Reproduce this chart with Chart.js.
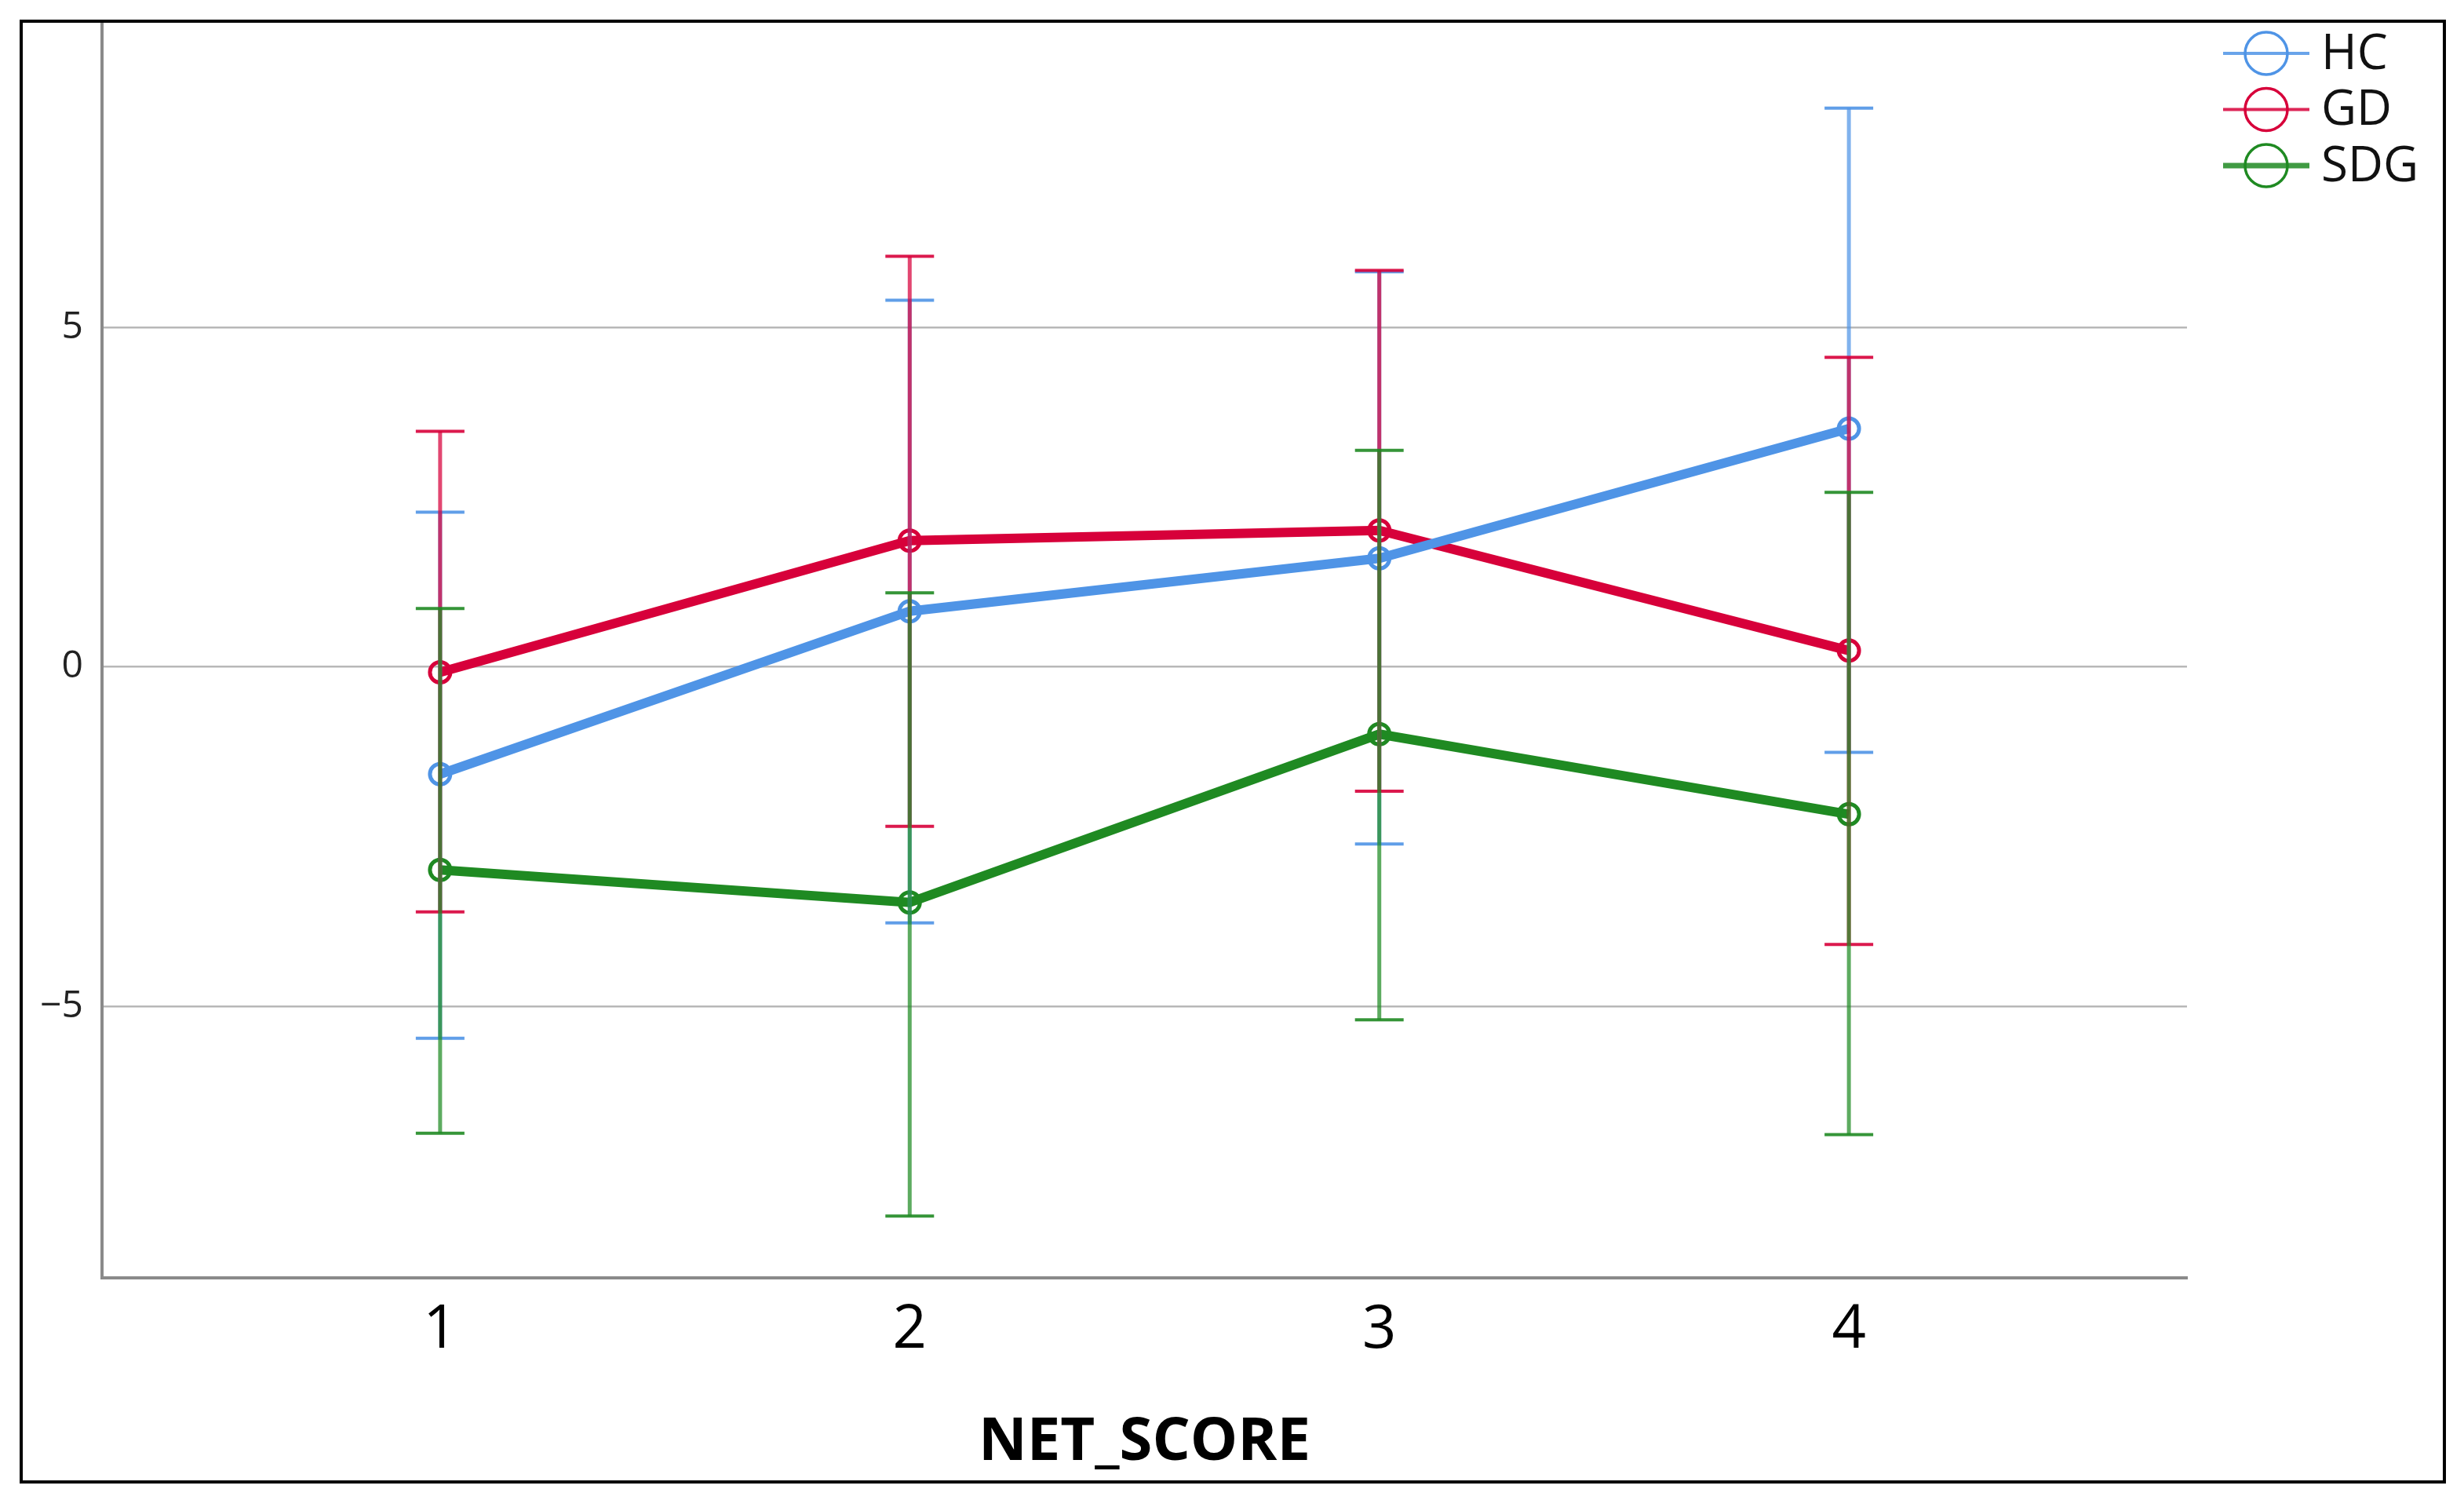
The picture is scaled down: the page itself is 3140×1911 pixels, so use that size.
<!DOCTYPE html>
<html>
<head>
<meta charset="utf-8">
<script src="https://cdn.jsdelivr.net/npm/chart.js@4.4.0/dist/chart.umd.min.js"></script>
<style>
  html, body { margin: 0; padding: 0; background: #fff; }
  #wrap { position: relative; width: 3140px; height: 1911px; }
  #frame {
    position: absolute; left: 25px; top: 25px; width: 3092px; height: 1865px;
    border: 4px solid #000; box-sizing: border-box; pointer-events: none;
  }
  canvas { position: absolute; left: 0; top: 0; }
</style>
</head>
<body>
<div id="wrap">
  <canvas id="chart" width="3140" height="1911"></canvas>
  <div id="frame"></div>
</div>
<script>
const categories = [1, 2, 3, 4];
const yTicks = [-5, 0, 5];

const hcMean = [-1.58, 0.82, 1.60, 3.51];
const hcUpper = [2.28, 5.40, 5.82, 8.23];
const hcLower = [-5.47, -3.77, -2.61, -1.26];

const gdMean = [-0.08, 1.86, 2.01, 0.24];
const gdUpper = [3.47, 6.05, 5.84, 4.56];
const gdLower = [-3.61, -2.35, -1.83, -4.09];

const sdgMean = [-2.99, -3.47, -0.99, -2.17];
const sdgUpper = [0.86, 1.09, 3.19, 2.57];
const sdgLower = [-6.87, -8.09, -5.20, -6.89];

const groups = [
    { label: 'HC', color: '#4f94e6', mean: hcMean, upper: hcUpper, lower: hcLower, legendWidth: 4 },
    { label: 'GD', color: '#d7003a', mean: gdMean, upper: gdUpper, lower: gdLower, legendWidth: 4 },
    { label: 'SDG', color: '#1f8a22', mean: sdgMean, upper: sdgUpper, lower: sdgLower, legendWidth: 7 },
];

const FONT = "'Open Sans', 'Liberation Sans', sans-serif";

const withAlpha = (hex, alpha) => {
    const r = parseInt(hex.substring(1, 3), 16);
    const g = parseInt(hex.substring(3, 5), 16);
    const b = parseInt(hex.substring(5, 7), 16);
    return `rgba(${r}, ${g}, ${b}, ${alpha})`;
};

// error bars (whiskers with caps) drawn through the chart scales
const errorBars = {
    id: 'errorBars',
    afterDatasetsDraw(chart) {
        const { ctx, scales: { x, y } } = chart;
        const capHalf = 31;
        ctx.save();
        groups.forEach((group) => {
            categories.forEach((cat, i) => {
                const px = x.getPixelForValue(cat);
                const top = y.getPixelForValue(group.upper[i]);
                const bottom = y.getPixelForValue(group.lower[i]);
                ctx.strokeStyle = withAlpha(group.color, 0.72);
                ctx.lineWidth = 5;
                ctx.beginPath();
                ctx.moveTo(px, top);
                ctx.lineTo(px, bottom);
                ctx.stroke();
                ctx.strokeStyle = withAlpha(group.color, 0.9);
                ctx.lineWidth = 4;
                ctx.beginPath();
                ctx.moveTo(px - capHalf, top);
                ctx.lineTo(px + capHalf, top);
                ctx.moveTo(px - capHalf, bottom);
                ctx.lineTo(px + capHalf, bottom);
                ctx.stroke();
            });
        });
        ctx.restore();
    },
};

// legend in the top right corner: line with an open circle, then the label
const sideLegend = {
    id: 'sideLegend',
    afterDraw(chart) {
        const { ctx } = chart;
        const lineStart = 2833;
        const lineEnd = 2943;
        const circleX = 2888;
        const firstRow = 68;
        const rowGap = 71.5;
        ctx.save();
        groups.forEach((group, i) => {
            const rowY = firstRow + i * rowGap;
            ctx.strokeStyle = withAlpha(group.color, 0.85);
            ctx.lineWidth = group.legendWidth;
            ctx.beginPath();
            ctx.moveTo(lineStart, rowY);
            ctx.lineTo(lineEnd, rowY);
            ctx.stroke();
            ctx.strokeStyle = group.color;
            ctx.lineWidth = 3.5;
            ctx.beginPath();
            ctx.arc(circleX, rowY, 27, 0, Math.PI * 2);
            ctx.stroke();
            ctx.fillStyle = '#111';
            ctx.font = `62px ${FONT}`;
            ctx.textAlign = 'left';
            ctx.textBaseline = 'middle';
            ctx.fillText(group.label, 2958, rowY + 2);
        });
        ctx.restore();
    },
};

const datasets = groups.map((group) => ({
    label: group.label,
    data: categories.map((cat, i) => ({ x: cat, y: group.mean[i] })),
    borderColor: group.color,
    backgroundColor: 'transparent',
    borderWidth: 12,
    pointRadius: 13,
    pointBorderWidth: 5,
    pointBorderColor: group.color,
    pointBackgroundColor: 'transparent',
    tension: 0,
}));

new Chart(document.getElementById('chart').getContext('2d'), {
    type: 'line',
    data: { datasets },
    options: {
        responsive: false,
        animation: false,
        devicePixelRatio: 1,
        layout: {
            padding: { left: 0, right: 353, top: 28, bottom: 0 },
        },
        plugins: {
            legend: { display: false },
            tooltip: { enabled: false },
        },
        scales: {
            x: {
                type: 'linear',
                min: 0.28,
                max: 4.72,
                afterBuildTicks(scale) {
                    scale.ticks = categories.map((value) => ({ value }));
                },
                afterFit(scale) {
                    scale.height = 283;
                    scale.paddingLeft = 0;
                    scale.paddingRight = 0;
                },
                grid: { display: false, drawTicks: false },
                border: { display: true, color: '#8a8a8a', width: 4 },
                ticks: {
                    color: '#000',
                    padding: 22,
                    maxRotation: 0,
                    font: { family: FONT, size: 76 },
                    callback: (value) => String(value),
                },
                title: {
                    display: true,
                    text: 'NET_SCORE',
                    color: '#000',
                    font: { family: FONT, size: 76, weight: 'bold' },
                    padding: { top: 0, bottom: 27 },
                },
            },
            y: {
                min: -9,
                max: 9.5,
                afterBuildTicks(scale) {
                    scale.ticks = yTicks.map((value) => ({ value }));
                },
                afterFit(scale) {
                    scale.width = 130;
                    scale.paddingTop = 0;
                    scale.paddingBottom = 0;
                },
                grid: { color: '#b8b8b8', lineWidth: 2.5, drawTicks: false },
                border: { display: true, color: '#8a8a8a', width: 4 },
                ticks: {
                    color: '#222',
                    padding: 24,
                    font: { family: FONT, size: 48 },
                    callback: (value) => (value < 0 ? '\u2212' + Math.abs(value) : String(value)),
                },
            },
        },
    },
    plugins: [errorBars, sideLegend],
});
</script>
</body>
</html>
